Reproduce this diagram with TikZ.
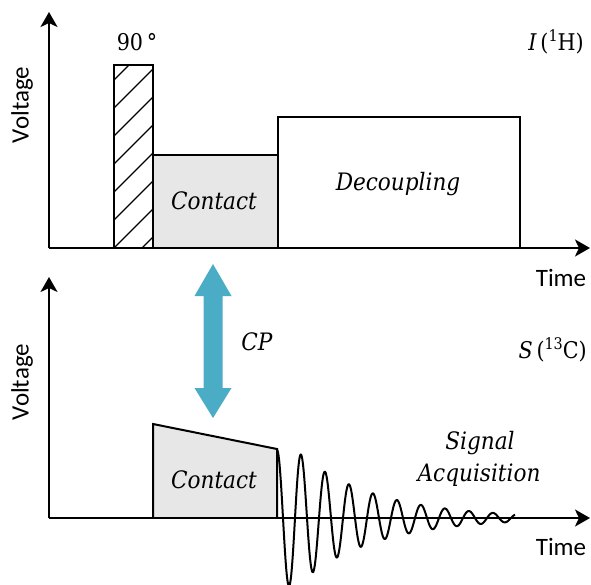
\documentclass[tikz,border=0pt]{standalone}
\usepackage{fontspec}
\setsansfont{Carlito}
\newfontfamily\sereg{DejaVu Serif Condensed}
\usetikzlibrary{arrows.meta}
\definecolor{cpblue}{HTML}{4BACC6}
\definecolor{boxgray}{HTML}{E7E7E7}
\newcommand{\supnum}[1]{\raisebox{0.42em}{\fontsize{16}{16}\selectfont #1}}
\begin{document}
\begin{tikzpicture}[x=1pt,y=-1pt,
  axis/.style={line width=2.2pt,-{Stealth[length=15pt,width=17pt,inset=4pt]}},
  pulse/.style={line width=2pt,line join=miter},
  sanslbl/.style={font=\sffamily\fontsize{25}{30}\selectfont,inner sep=0pt},
  seriflbl/.style={font=\sereg\fontsize{23}{28}\selectfont,inner sep=0pt},
  itlbl/.style={font=\sereg\itshape\fontsize{24}{29}\selectfont,inner sep=0pt}]
\useasboundingbox (0,0) rectangle (591,585);
% ---------- top panel (I channel) ----------
\fill[boxgray] (153,248) rectangle (278,155);
\begin{scope}
  \clip (114,65) rectangle (153,248);
  \foreach \k in {-1,...,9} \draw[line width=1.3pt] (114,{248-28*\k}) -- ++(39,-39);
\end{scope}
\draw[pulse] (114,248) -- (114,65) -- (153,65) -- (153,248);
\draw[pulse] (153,155) -- (278,155) -- (278,248);
\draw[pulse] (278,155) -- (278,117) -- (520,117) -- (520,248);
\draw[axis] (49,248) -- (49,12);
\draw[axis] (49,248) -- (590,248);
\node[seriflbl] (ninety) at (137,42) {90\,°};
\node[seriflbl,anchor=east] (ilabel) at (584,42) {{\itshape I}\,(\supnum{1}H)};
\node[itlbl] (contact1) at (214,201) {Contact};
\node[itlbl] (decoup) at (398,184) {Decoupling};
\node[sanslbl,rotate=90] (volt1) at (22,105) {Voltage};
\node[sanslbl] (time1) at (561,278) {Time};
% ---------- CP arrow ----------
\fill[cpblue] (213,264) -- (231.5,296) -- (222.5,296) -- (222.5,388) -- (231.5,388)
  -- (213,418) -- (194.5,388) -- (203.5,388) -- (203.5,296) -- (194.5,296) -- cycle;
\node[itlbl] (cp) at (257,342) {CP};
% ---------- bottom panel (S channel) ----------
\filldraw[pulse,fill=boxgray] (153,518) -- (153,424) -- (277,449) -- (277,518);
\draw[line width=2pt,line join=round] plot[domain=0:238,samples=500,smooth]
  ({277+\x},{518-min(68,87*exp(-\x/76))*cos(15*\x)});
\draw[axis] (49,518) -- (49,277);
\draw[axis] (49,518) -- (590,518);
\node[itlbl] (contact2) at (214,480) {Contact};
\node[seriflbl,anchor=east] (slabel) at (587,350) {{\itshape S}\,(\supnum{13}C)};
\node[itlbl] (signal) at (480,443) {Signal};
\node[itlbl] (acq) at (479,475) {Acquisition};
\node[sanslbl,rotate=90] (volt2) at (22,382) {Voltage};
\node[sanslbl] (time2) at (561,547) {Time};
\end{tikzpicture}
\end{document}
